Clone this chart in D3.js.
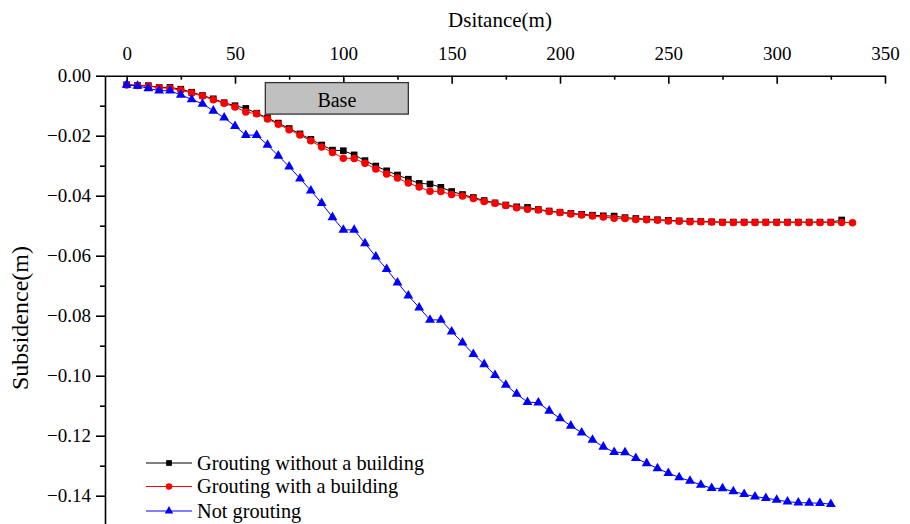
<!DOCTYPE html>
<html>
<head>
<meta charset="utf-8">
<script src="https://cdn.jsdelivr.net/npm/d3@7"></script>
<style>
  body { margin: 0; background: #fff; }
</style>
</head>
<body>
<div id="chart"></div>
<script>
// distance along the section (m)
const distance = [0, 5, 10, 15, 20, 25, 30, 35, 40, 45, 50, 55, 60, 65, 70, 75, 80, 85, 90, 95,
  100, 105, 110, 115, 120, 125, 130, 135, 140, 145, 150, 155, 160, 165, 170, 175, 180, 185, 190, 195,
  200, 205, 210, 215, 220, 225, 230, 235, 240, 245, 250, 255, 260, 265, 270, 275, 280, 285, 290, 295,
  300, 305, 310, 315, 320, 325, 330, 335]

// subsidence (m)
const groutNoBuilding = [-0.0030, -0.0032, -0.0033, -0.0039, -0.0039, -0.0045, -0.0055, -0.0066, -0.0077, -0.0090,
  -0.0100, -0.0109, -0.0125, -0.0141, -0.0158, -0.0176, -0.0194, -0.0212, -0.0231, -0.0248,
  -0.0250, -0.0264, -0.0283, -0.0301, -0.0317, -0.0331, -0.0345, -0.0359, -0.0361, -0.0372,
  -0.0386, -0.0396, -0.0406, -0.0416, -0.0424, -0.0431, -0.0437, -0.0439, -0.0446, -0.0451,
  -0.0455, -0.0459, -0.0462, -0.0465, -0.0467, -0.0468, -0.0473, -0.0476, -0.0478, -0.0480,
  -0.0482, -0.0484, -0.0485, -0.0486, -0.0487, -0.0488, -0.0488, -0.0488, -0.0488, -0.0488,
  -0.0488, -0.0488, -0.0488, -0.0488, -0.0488, -0.0488, -0.0481]

const groutWithBuilding = [-0.0031, -0.0033, -0.0035, -0.0040, -0.0042, -0.0048, -0.0058, -0.0068, -0.0080, -0.0092,
  -0.0104, -0.0121, -0.0127, -0.0144, -0.0162, -0.0180, -0.0198, -0.0217, -0.0238, -0.0256,
  -0.0275, -0.0276, -0.0292, -0.0311, -0.0328, -0.0341, -0.0358, -0.0371, -0.0385, -0.0386,
  -0.0396, -0.0401, -0.0409, -0.0419, -0.0425, -0.0433, -0.0440, -0.0445, -0.0448, -0.0453,
  -0.0456, -0.0461, -0.0464, -0.0468, -0.0471, -0.0475, -0.0476, -0.0479, -0.0480, -0.0482,
  -0.0484, -0.0485, -0.0487, -0.0487, -0.0488, -0.0489, -0.0489, -0.0489, -0.0489, -0.0489,
  -0.0489, -0.0489, -0.0489, -0.0489, -0.0489, -0.0489, -0.0489, -0.0490]

const notGrouting = [-0.0031, -0.0034, -0.0042, -0.0050, -0.0050, -0.0064, -0.0079, -0.0094, -0.0117, -0.0140,
  -0.0168, -0.0198, -0.0198, -0.0231, -0.0267, -0.0303, -0.0343, -0.0383, -0.0425, -0.0472,
  -0.0514, -0.0514, -0.0559, -0.0603, -0.0645, -0.0690, -0.0733, -0.0773, -0.0814, -0.0814,
  -0.0853, -0.0890, -0.0928, -0.0962, -0.0998, -0.1031, -0.1061, -0.1088, -0.1090, -0.1117,
  -0.1142, -0.1167, -0.1190, -0.1214, -0.1237, -0.1255, -0.1256, -0.1275, -0.1292, -0.1309,
  -0.1325, -0.1339, -0.1351, -0.1364, -0.1375, -0.1376, -0.1386, -0.1395, -0.1403, -0.1408,
  -0.1414, -0.1420, -0.1423, -0.1424, -0.1425, -0.1428]

const seriesNames = ["Grouting without a building", "Grouting with a building", "Not grouting"]
const xTicks = [0, 50, 100, 150, 200, 250, 300, 350]
const xMinorTicks = [25, 75, 125, 175, 225, 275, 325]
const yTicks = [0, -0.02, -0.04, -0.06, -0.08, -0.10, -0.12, -0.14]
const yMinorTicks = [-0.01, -0.03, -0.05, -0.07, -0.09, -0.11, -0.13, -0.15]

// building base footprint
const baseLabel = "Base"
const baseX = [64, 130]
const baseY = [-0.0023, -0.0128]

const FONT = "'Liberation Serif', 'Times New Roman', serif"

let width = 910
let height = 524

let svg = d3.select("#chart").append("svg")
  .attr("width", width)
  .attr("height", height)
  .style("font-family", FONT)

let x = d3.scaleLinear([-10, 350], [105, 885])
let y = d3.scaleLinear([0, -0.155], [75.7, 540.7])

// top x axis
let xAxis = svg.append("g")
  .attr("transform", `translate(0,${y(0)})`)
  .call(d3.axisTop(x).tickValues(xTicks).tickSizeInner(-8).tickSizeOuter(0).tickPadding(15.5).tickFormat(d3.format("d")))
xAxis.attr("font-size", 19)
xAxis.select(".domain").attr("stroke-width", 1.6)
xAxis.selectAll(".tick line").attr("stroke-width", 1.6)
xAxis.selectAll("text").attr("fill", "#000").style("font-family", FONT)

let xMinor = svg.append("g")
  .attr("transform", `translate(0,${y(0)})`)
  .call(d3.axisTop(x).tickValues(xMinorTicks).tickSizeInner(-4).tickSizeOuter(0).tickFormat(""))
xMinor.select(".domain").remove()
xMinor.selectAll(".tick line").attr("stroke-width", 1.6)

// left y axis
let yAxis = svg.append("g")
  .attr("transform", `translate(${x(-10)},0)`)
  .call(d3.axisLeft(y).tickValues(yTicks).tickSize(9).tickSizeOuter(0).tickPadding(5).tickFormat(d3.format(".2f")))
yAxis.attr("font-size", 19)
yAxis.select(".domain").attr("stroke-width", 1.6)
yAxis.selectAll(".tick line").attr("stroke-width", 1.6)
yAxis.selectAll("text").attr("fill", "#000").style("font-family", FONT)

let yMinor = svg.append("g")
  .attr("transform", `translate(${x(-10)},0)`)
  .call(d3.axisLeft(y).tickValues(yMinorTicks).tickSize(5).tickSizeOuter(0).tickFormat(""))
yMinor.select(".domain").remove()
yMinor.selectAll(".tick line").attr("stroke-width", 1.6)

// axis titles
svg.append("text")
  .attr("x", 500)
  .attr("y", 26.5)
  .attr("text-anchor", "middle")
  .attr("font-size", 21)
  .style("font-family", FONT)
  .text("Dsitance(m)")

svg.append("text")
  .attr("transform", "translate(28,318) rotate(-90)")
  .attr("text-anchor", "middle")
  .attr("font-size", 24)
  .style("font-family", FONT)
  .text("Subsidence(m)")

// base box
svg.append("rect")
  .attr("x", x(baseX[0]))
  .attr("y", y(baseY[0]))
  .attr("width", x(baseX[1]) - x(baseX[0]))
  .attr("height", y(baseY[1]) - y(baseY[0]))
  .attr("fill", "#c0c0c0")
  .attr("stroke", "#333")
  .attr("stroke-width", 1.3)

svg.append("text")
  .attr("x", (x(baseX[0]) + x(baseX[1])) / 2)
  .attr("y", 106.5)
  .attr("text-anchor", "middle")
  .attr("font-size", 20)
  .style("font-family", FONT)
  .text(baseLabel)

// series
let series = [
  { name: seriesNames[0], values: groutNoBuilding, color: "#000000", symbol: d3.symbolSquare, size: 44 },
  { name: seriesNames[1], values: groutWithBuilding, color: "#ff0000", symbol: d3.symbolCircle, size: 44 },
  { name: seriesNames[2], values: notGrouting, color: "#0000ff", symbol: d3.symbolTriangle, size: 42 }
]

let line = d3.line()
  .x(d => x(d[0]))
  .y(d => y(d[1]))

series.forEach(s => {
  let pts = s.values.map((v, i) => [distance[i], v])
  let g = svg.append("g")
  g.append("path")
    .datum(pts)
    .attr("fill", "none")
    .attr("stroke", s.color)
    .attr("stroke-width", 1)
    .attr("d", line)
  g.selectAll("path.mk")
    .data(pts)
    .join("path")
    .attr("class", "mk")
    .attr("transform", d => `translate(${x(d[0])},${y(d[1])})`)
    .attr("d", d3.symbol(s.symbol, s.size))
    .attr("fill", s.color)
})

// legend
let legend = svg.append("g")
let legendY = [463, 486.5, 511]
series.forEach((s, i) => {
  let row = legend.append("g").attr("transform", `translate(0,${legendY[i]})`)
  row.append("line")
    .attr("x1", 146).attr("x2", 192)
    .attr("stroke", s.color)
    .attr("stroke-width", 1)
  row.append("path")
    .attr("transform", "translate(169,0)")
    .attr("d", d3.symbol(s.symbol, s.size * 0.75))
    .attr("fill", s.color)
  row.append("text")
    .attr("x", 197)
    .attr("dy", "0.33em")
    .attr("font-size", 20.3)
    .style("font-family", FONT)
    .text(s.name)
})
</script>
</body>
</html>
